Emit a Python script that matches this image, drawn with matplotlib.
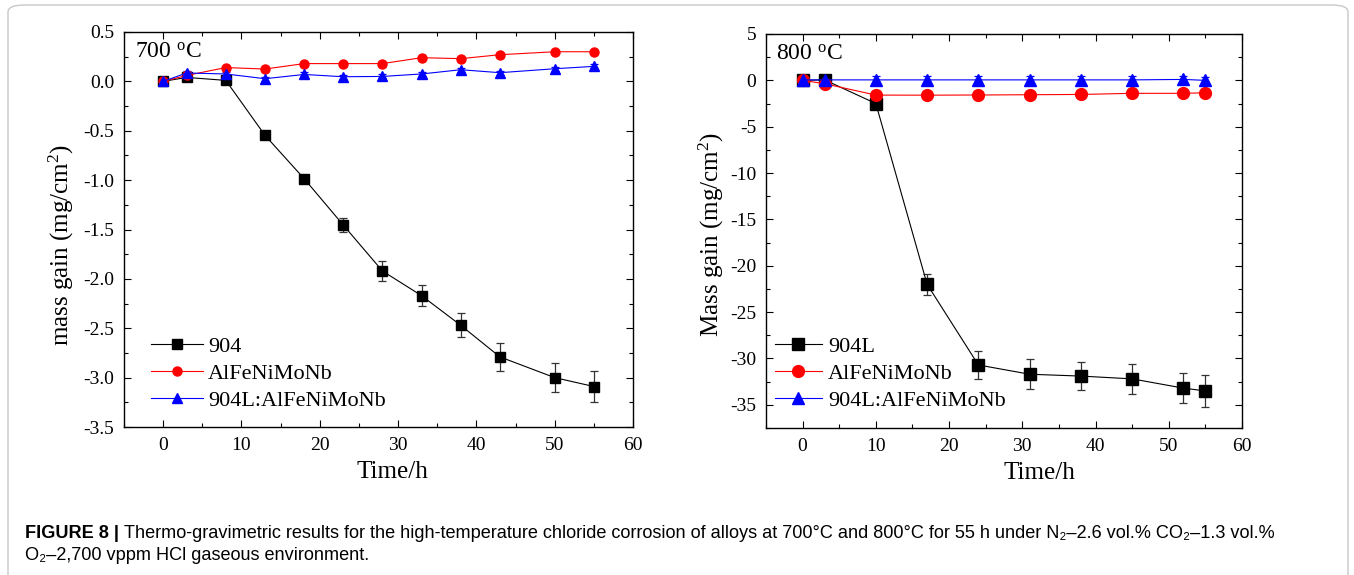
import matplotlib
matplotlib.use("Agg")
import matplotlib.pyplot as plt
from matplotlib.patches import FancyBboxPatch
from matplotlib.ticker import MultipleLocator, FormatStrFormatter

plt.rcParams['font.family'] = ['Liberation Serif', 'DejaVu Serif']
plt.rcParams['mathtext.fontset'] = 'custom'
plt.rcParams['mathtext.rm'] = 'Liberation Serif'
plt.rcParams['mathtext.it'] = 'Liberation Serif:italic'
plt.rcParams['axes.unicode_minus'] = False

# ---- data: 700 C ----
t700 = [0, 3, 8, 13, 18, 23, 28, 33, 38, 43, 50, 55]
m904_700 = [0.0, 0.04, 0.01, -0.546, -0.985, -1.455, -1.92, -2.17, -2.47, -2.79, -3.0, -3.09]
e904_700 = [0.0, 0.01, 0.01, 0.02, 0.035, 0.075, 0.098, 0.106, 0.12, 0.14, 0.15, 0.155]
mAl_700 = [0.0, 0.06, 0.14, 0.125, 0.18, 0.18, 0.18, 0.24, 0.23, 0.27, 0.30, 0.30]
eAl_700 = [0.01] * 12
mMix_700 = [0.0, 0.085, 0.075, 0.027, 0.07, 0.047, 0.05, 0.075, 0.118, 0.088, 0.128, 0.152]
eMix_700 = [0.02] * 12

# ---- data: 800 C ----
t800 = [0, 3, 10, 17, 24, 31, 38, 45, 52, 55]
m904_800 = [0.0, 0.05, -2.5, -22.0, -30.7, -31.7, -31.9, -32.2, -33.2, -33.5]
e904_800 = [0.1, 0.1, 0.2, 1.1, 1.5, 1.6, 1.55, 1.6, 1.65, 1.7]
mAl_800 = [0.0, -0.36, -1.59, -1.6, -1.58, -1.55, -1.52, -1.4, -1.4, -1.34]
eAl_800 = [0.3] * 10
mMix_800 = [0.05, 0.05, 0.05, 0.05, 0.05, 0.05, 0.05, 0.05, 0.1, 0.0]
eMix_800 = [0.4] * 10

labels_700 = ['904', 'AlFeNiMoNb', '904L:AlFeNiMoNb']
labels_800 = ['904L', 'AlFeNiMoNb', '904L:AlFeNiMoNb']

caption_bold = 'FIGURE 8 | '
caption_line1 = ('Thermo-gravimetric results for the high-temperature chloride corrosion of '
                 'alloys at 700°C and 800°C for 55 h under N₂–2.6 vol.% CO₂–1.3 vol.%')
caption_line2 = 'O₂–2,700 vppm HCl gaseous environment.'

fig = plt.figure(figsize=(13.54, 5.75), dpi=100)

# frame
frame = FancyBboxPatch((8 / 1354, -0.05), (1348 - 8) / 1354, 1.05 - 5 / 575,
                       boxstyle="round,pad=0,rounding_size=0.012",
                       transform=fig.transFigure, facecolor='none',
                       edgecolor='#c8c8c8', linewidth=1.0, clip_on=False)
fig.patches.append(frame)

ax1 = fig.add_axes([124 / 1354, 1 - 427 / 575, (633 - 124) / 1354, (427 - 32) / 575])
ax2 = fig.add_axes([766 / 1354, 1 - 428 / 575, (1242 - 766) / 1354, (428 - 34) / 575])


def style(ax):
    ax.tick_params(which='both', direction='in', top=True, right=True, labelsize=14,
                   width=0.8, pad=7)
    ax.tick_params(which='major', length=5)
    ax.tick_params(which='minor', length=3)
    for s in ax.spines.values():
        s.set_linewidth(1.0)


def plot_series(ax, t, vals, errs, color, marker, ms, label):
    c = ax.errorbar(t, vals, yerr=errs, color=color, marker=marker, markersize=ms,
                    linewidth=0.8, elinewidth=0.9, capsize=3, capthick=0.9,
                    ecolor=('#333333' if color == 'black' else color), label=label)
    return c[0]


# left panel
h1 = [plot_series(ax1, t700, m904_700, e904_700, 'black', 's', 6.5, labels_700[0]),
      plot_series(ax1, t700, mAl_700, eAl_700, 'red', 'o', 6.5, labels_700[1]),
      plot_series(ax1, t700, mMix_700, eMix_700, 'blue', '^', 6.5, labels_700[2])]
ax1.set_xlim(-5, 60)
ax1.set_ylim(-3.5, 0.5)
ax1.xaxis.set_major_locator(MultipleLocator(10))
ax1.xaxis.set_minor_locator(MultipleLocator(5))
ax1.yaxis.set_major_locator(MultipleLocator(0.5))
ax1.yaxis.set_minor_locator(MultipleLocator(0.25))
ax1.yaxis.set_major_formatter(FormatStrFormatter('%.1f'))
style(ax1)
ax1.set_xlabel('Time/h', fontsize=18, labelpad=5)
ax1.set_ylabel('mass gain (mg/cm$^2$)', fontsize=18, labelpad=5)
ax1.xaxis.label.set_x(0.527)
ax1.yaxis.label.set_y(0.46)
ax1.text(0.022, 0.975, '700 $^{\\mathrm{o}}$C', transform=ax1.transAxes,
         fontsize=17, va='top', ha='left')
ax1.legend(handles=h1, labels=labels_700, loc='lower left', bbox_to_anchor=(0.035, 0.018),
           frameon=False, fontsize=16, handlelength=2.35, handletextpad=0.22,
           labelspacing=0.3, borderaxespad=0.0)

# right panel
h2 = [plot_series(ax2, t800, m904_800, e904_800, 'black', 's', 8, labels_800[0]),
      plot_series(ax2, t800, mAl_800, eAl_800, 'red', 'o', 8.5, labels_800[1]),
      plot_series(ax2, t800, mMix_800, eMix_800, 'blue', '^', 8, labels_800[2])]
ax2.set_xlim(-5, 60)
ax2.set_ylim(-37.5, 5)
ax2.xaxis.set_major_locator(MultipleLocator(10))
ax2.xaxis.set_minor_locator(MultipleLocator(5))
ax2.yaxis.set_major_locator(MultipleLocator(5))
ax2.yaxis.set_minor_locator(MultipleLocator(2.5))
style(ax2)
ax2.set_xlabel('Time/h', fontsize=18, labelpad=5)
ax2.set_ylabel('Mass gain (mg/cm$^2$)', fontsize=18, labelpad=3)
ax2.xaxis.label.set_x(0.575)
ax2.yaxis.label.set_y(0.49)
ax2.text(0.022, 0.975, '800 $^{\\mathrm{o}}$C', transform=ax2.transAxes,
         fontsize=17, va='top', ha='left')
ax2.legend(handles=h2, labels=labels_800, loc='lower left', bbox_to_anchor=(0.0, 0.02),
           frameon=False, fontsize=16, handlelength=2.1, handletextpad=0.3,
           labelspacing=0.3, borderaxespad=0.0)

# caption
cap_fam = ['Liberation Sans', 'DejaVu Sans']
t1 = fig.text(25 / 1354, 1 - 534 / 575, caption_bold, fontsize=13.1, fontweight='bold',
              family=cap_fam, va='center', ha='left')
fig.canvas.draw()
bb = t1.get_window_extent()
fig.text(bb.x1 / fig.bbox.width, 1 - 534 / 575, caption_line1,
         fontsize=13.1, family=cap_fam, va='center', ha='left')
fig.text(25 / 1354, 1 - 555 / 575, caption_line2,
         fontsize=13.1, family=cap_fam, va='center', ha='left')

fig.savefig('out.png', dpi=100)
